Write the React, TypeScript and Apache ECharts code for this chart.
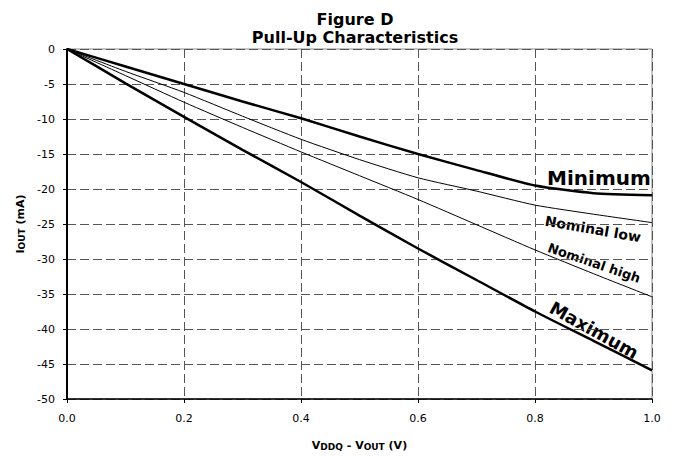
import React, { useEffect, useRef } from "react";
import * as echarts from "echarts";

const voltages = [0, 0.1, 0.2, 0.3, 0.4, 0.5, 0.6, 0.7, 0.8, 0.9, 1.0];
const minimum = [0, -2.5, -5.0, -7.5, -9.9, -12.5, -15.0, -17.3, -19.5, -20.6, -20.9];
const nominalLow = [0, -3.2, -6.2, -9.6, -12.9, -15.8, -18.4, -20.3, -22.3, -23.6, -24.8];
const nominalHigh = [0, -3.8, -7.6, -11.2, -14.7, -18.1, -21.5, -25.1, -28.7, -32.1, -35.4];
const maximum = [0, -4.9, -9.7, -14.4, -19.0, -23.8, -28.5, -33.0, -37.5, -41.7, -45.9];

const seriesNames = ["Minimum", "Nominal low", "Nominal high", "Maximum"];
const FONT = "DejaVu Sans";

export default function App() {
  const ref = useRef<HTMLDivElement>(null);
  useEffect(() => {
    if (!ref.current) return;
    const chart = echarts.init(ref.current, undefined, { renderer: "svg" });
    const pairs = (ys: number[]) => voltages.map((v, i) => [v, ys[i]]);
    const all = [minimum, nominalLow, nominalHigh, maximum];
    const widths = [2.5, 1, 1, 2.5];
    const nameRich = {
      n: { fontFamily: FONT, fontSize: 11, fontWeight: "bold", color: "#000", verticalAlign: "bottom", lineHeight: 13 },
      s: { fontFamily: FONT, fontSize: 9, fontWeight: "bold", color: "#000", verticalAlign: "bottom", lineHeight: 12 },
    };
    chart.setOption({
      animation: false,
      backgroundColor: "#fff",
      title: {
        text: "Figure D\nPull-Up Characteristics",
        left: 350,
        top: 5,
        textAlign: "center",
        textStyle: { fontFamily: FONT, fontSize: 16, fontWeight: "bold", color: "#000", lineHeight: 18 },
      },
      grid: {
        left: 67,
        right: 21,
        top: 49,
        bottom: 52,
        show: true,
        borderColor: "#888",
        borderWidth: 1,
      },
      xAxis: {
        type: "value",
        min: 0,
        max: 1,
        interval: 0.2,
        name: "{n|V}{s|DDQ}{n| - V}{s|OUT}{n| (V)}",
        nameLocation: "middle",
        nameGap: 39,
        nameTextStyle: { rich: nameRich },
        axisLine: { onZero: false, lineStyle: { color: "#000", width: 1.5 } },
        axisTick: { show: true, inside: false, length: 4, lineStyle: { color: "#000" } },
        axisLabel: {
          margin: 14,
          fontFamily: FONT,
          fontSize: 11,
          color: "#000",
          formatter: (v: number) => v.toFixed(1),
        },
        splitLine: { show: true, lineStyle: { color: "#555", type: [9, 4], width: 1 } },
      },
      yAxis: {
        type: "value",
        min: -50,
        max: 0,
        interval: 5,
        name: "{n|I}{s|OUT}{n| (mA)}",
        nameLocation: "middle",
        nameRotate: 90,
        nameGap: 40,
        nameTextStyle: { rich: nameRich },
        axisLine: { show: true, onZero: false, lineStyle: { color: "#000", width: 2 } },
        axisTick: { show: true, inside: false, length: 4, lineStyle: { color: "#000" } },
        axisLabel: { margin: 12, fontFamily: FONT, fontSize: 11, color: "#000" },
        splitLine: { show: true, lineStyle: { color: "#555", type: [9, 4], width: 1 } },
      },
      series: all.map((ys, i) => ({
        name: seriesNames[i],
        type: "line",
        data: pairs(ys),
        showSymbol: false,
        symbol: "none",
        smooth: 0.2,
        lineStyle: { color: "#000", width: widths[i] },
        silent: true,
      })),
      graphic: [
        {
          type: "text",
          x: 599,
          y: 178,
          style: { text: "Minimum", font: `bold 20px "${FONT}"`, fill: "#000", align: "center", verticalAlign: "middle" },
        },
        {
          type: "text",
          x: 593,
          y: 229,
          rotation: (-10 * Math.PI) / 180,
          style: { text: "Nominal low", font: `bold 14px "${FONT}"`, fill: "#000", align: "center", verticalAlign: "middle" },
        },
        {
          type: "text",
          x: 594,
          y: 263,
          rotation: (-19 * Math.PI) / 180,
          style: { text: "Nominal high", font: `bold 13px "${FONT}"`, fill: "#000", align: "center", verticalAlign: "middle" },
        },
        {
          type: "text",
          x: 594,
          y: 330,
          rotation: (-29 * Math.PI) / 180,
          style: { text: "Maximum", font: `bold 18px "${FONT}"`, fill: "#000", align: "center", verticalAlign: "middle" },
        },
      ],
    });
    return () => chart.dispose();
  }, []);
  return <div ref={ref} style={{ width: 673, height: 456, position: "absolute", left: 0, top: 0 }} />;
}
